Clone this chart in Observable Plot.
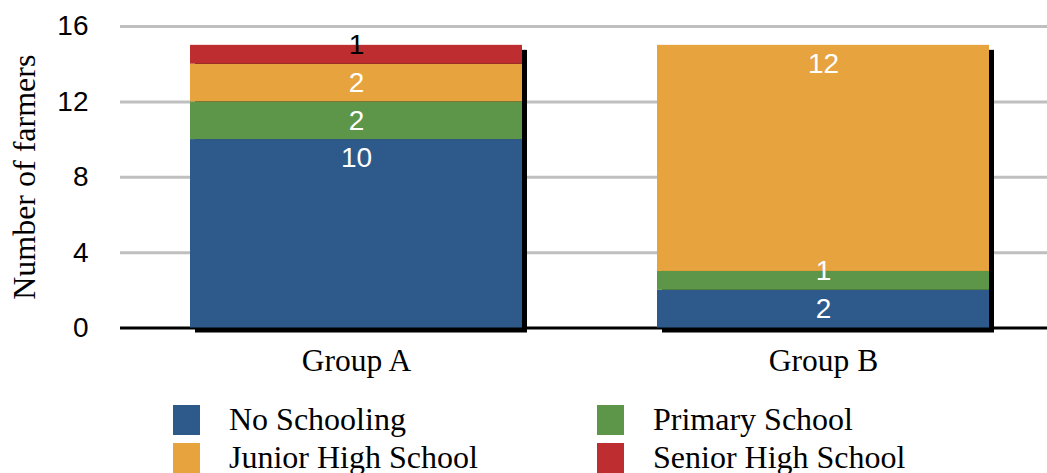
<!DOCTYPE html>
<html>
<head>
<meta charset="utf-8">
<script src="https://cdn.jsdelivr.net/npm/d3@7"></script>
<script src="https://cdn.jsdelivr.net/npm/@observablehq/plot@0.6"></script>
<style>
  body { margin: 0; background: #fff; }
  #chart svg { display: block; }
  .legend {
    display: grid;
    grid-template-columns: 424px 424px;
    grid-auto-rows: 38px;
    margin-left: 173px;
    margin-top: 16px;
    font-family: "Liberation Serif", "Times New Roman", serif;
    font-size: 32px;
    line-height: 1;
    color: #000;
  }
  .legend .item { display: flex; align-items: center; white-space: nowrap; }
  .legend .sw { width: 27px; height: 30px; flex-shrink: 0; margin-right: 29px; }
  .legend span { position: relative; top: -1px; }
</style>
</head>
<body>
<div id="chart"></div>
<script>
// Farmers by education level, per group
const groups = ["Group A", "Group B"];
const levels = ["No Schooling", "Primary School", "Junior High School", "Senior High School"];
const groupA = [10, 2, 2, 1];
const groupB = [2, 1, 12, 0];
const levelColors = ["#2e5a8b", "#5d9648", "#e7a33d", "#be2d30"];
const yTicks = [0, 4, 8, 12, 16];
const yTitle = "Number of farmers";
// legend reads row by row in a two-column grid
const legendOrder = ["No Schooling", "Primary School", "Junior High School", "Senior High School"];

// stacked segments with their start/end values
const series = [groupA, groupB];
const rows = [];
groups.forEach((g, gi) => {
  let acc = 0;
  levels.forEach((lv, li) => {
    const v = series[gi][li];
    if (v > 0) rows.push({group: g, level: lv, value: v, start: acc, end: acc + v});
    acc += v;
  });
});
const totals = groups.map((g, gi) => ({group: g, total: d3.sum(series[gi])}));
// value labels sit one unit under the top of each segment (at the top edge for single units)
const labels = rows.map(d => ({...d, labelY: d.value >= 2 ? d.end - 1 : d.end}));

const sans = "'Liberation Sans', Arial, Helvetica, sans-serif";
const serif = "'Liberation Serif', 'Times New Roman', serif";

const chart = Plot.plot({
  width: 1047,
  height: 385,
  marginTop: 26,
  marginBottom: 57.5,
  marginLeft: 120,
  marginRight: 0,
  style: {background: "#fff", color: "#000"},
  x: {domain: groups, paddingInner: 0.289, paddingOuter: 0.137, align: 0.55},
  y: {domain: [0, 16]},
  color: {domain: levels, range: levelColors},
  marks: [
    Plot.ruleY(yTicks.filter(t => t > 0), {stroke: "#bfbfbf", strokeWidth: 3}),
    Plot.barY(totals, {x: "group", y: "total", fill: "#000", dx: 5, dy: 5}),
    Plot.ruleY([0], {stroke: "#000", strokeWidth: 3}),
    Plot.barY(rows, {x: "group", y1: "start", y2: "end", fill: "level"}),
    Plot.text(labels, {
      x: "group", y: "labelY", text: d => String(d.value),
      fill: d => d.level === "Senior High School" ? "#000" : "#fff",
      fontSize: 28, fontFamily: sans
    }),
    Plot.axisY({ticks: yTicks, tickSize: 0, tickPadding: 32, fontSize: 28, fontFamily: sans, label: null}),
    // rotated title, centred on the frame's left edge
    Plot.text([yTitle], {
      frameAnchor: "left", rotate: -90, textAnchor: "middle", lineAnchor: "top", dx: -108,
      fontSize: 32, fontFamily: serif, fill: "#000"
    }),
    Plot.axisX({tickSize: 0, tickPadding: 21, fontSize: 31.5, fontFamily: serif, label: null})
  ]
});

const root = document.getElementById("chart");
root.appendChild(chart);

const colorOf = d3.scaleOrdinal(levels, levelColors);
const legend = d3.select(root).append("div").attr("class", "legend");
legendOrder.forEach(lv => {
  const it = legend.append("div").attr("class", "item");
  it.append("div").attr("class", "sw").style("background", colorOf(lv));
  it.append("span").text(lv);
});
</script>
</body>
</html>
